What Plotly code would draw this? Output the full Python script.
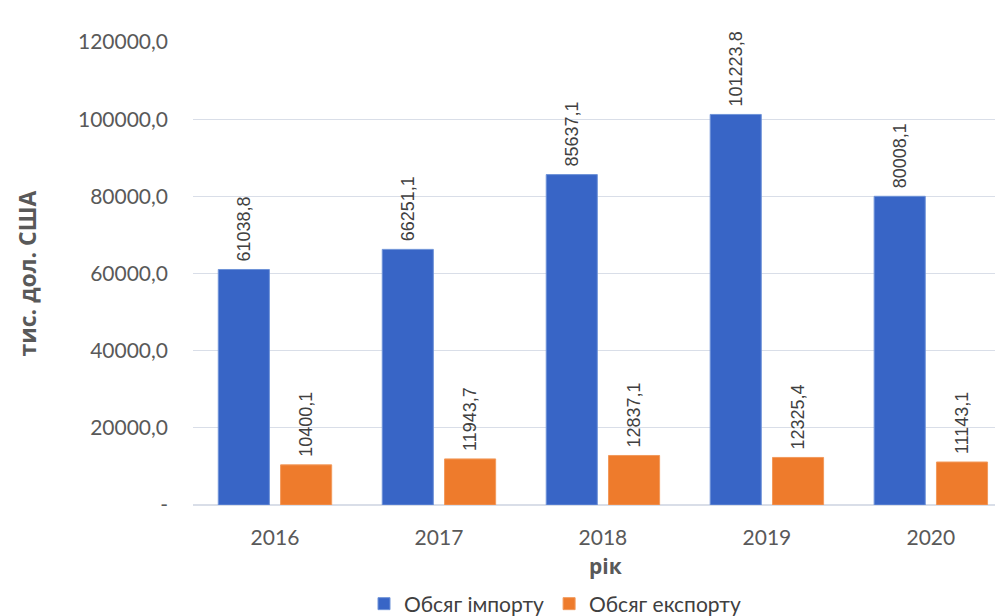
import plotly.graph_objects as go

years = ["2016", "2017", "2018", "2019", "2020"]
imports = [61038.8, 66251.1, 85637.1, 101223.8, 80008.1]
exports = [10400.1, 11943.7, 12837.1, 12325.4, 11143.1]
import_name = "Обсяг імпорту"
export_name = "Обсяг експорту"
y_title = "тис. дол. США"
x_title = "рік"
tick_vals = [0, 20000, 40000, 60000, 80000, 100000, 120000]
tick_text = ["-", "20000,0", "40000,0", "60000,0", "80000,0", "100000,0", "120000,0"]


def fmt(v):
    return "\u00a0" + f"{v:.1f}".replace(".", ",")


W, H = 1003, 616
ML, MR, MT, MB = 185, 8, 34, 119
plot_w = W - ML - MR
plot_h = H - MT - MB

label_font = dict(family="Liberation Sans, Arial", size=18, color="#404040")

fig = go.Figure()
fig.add_trace(go.Bar(
    x=years, y=imports, name=import_name,
    marker=dict(color="#3865C6", line=dict(color="#6F93D8", width=1)),
    text=[fmt(v) for v in imports], textposition="outside", textangle=-90,
    textfont=label_font, cliponaxis=False,
))
fig.add_trace(go.Bar(
    x=years, y=exports, name=export_name,
    marker=dict(color="#EE7B2C", line=dict(color="#F29A5C", width=1)),
    text=[fmt(v) for v in exports], textposition="outside", textangle=-90,
    textfont=label_font, cliponaxis=False,
))

fig.update_layout(
    width=W, height=H,
    margin=dict(l=ML, r=MR, t=MT, b=MB, autoexpand=False),
    paper_bgcolor="white", plot_bgcolor="white",
    barmode="group", bargap=0.24, bargroupgap=0.18,
    font=dict(family="Lato, Open Sans, sans-serif", color="#595959", size=21),
    showlegend=True,
    legend=dict(orientation="h", x=547 / W, xanchor="center", xref="container",
                y=(H - 596) / H, yanchor="middle", yref="container",
                font=dict(size=21, color="#404040"),
                traceorder="normal", itemwidth=30),
    uniformtext=dict(minsize=18, mode="show"),
    annotations=[
        dict(text=y_title, x=(18 - ML) / plot_w, xref="paper", y=0.5, yref="paper", showarrow=False,
             textangle=-90, xanchor="center", yanchor="middle",
             font=dict(size=23, color="#595959", family="Open Sans, sans-serif", weight="bold")),
        dict(text=x_title, x=(597 - ML) / plot_w, xref="paper", y=(H - MB - 558) / plot_h, yref="paper",
             showarrow=False, xanchor="center", yanchor="middle",
             font=dict(size=21, color="#595959", family="Open Sans, sans-serif", weight="bold")),
    ],
)

fig.update_xaxes(
    range=[-0.5, 4.44], showgrid=False, showline=False, ticks="", automargin=False,
    tickfont=dict(size=21, color="#595959"), ticklabelstandoff=18,
)
fig.update_yaxes(
    range=[0, 120000], tickvals=tick_vals, ticktext=tick_text, automargin=False,
    showgrid=True, gridcolor="#D9DEE8", gridwidth=1, zeroline=True, zerolinecolor="#D9DEE8",
    showline=False, ticks="", ticklabelstandoff=24,
    tickfont=dict(size=21, color="#595959"),
)

fig.write_html("out.html")
